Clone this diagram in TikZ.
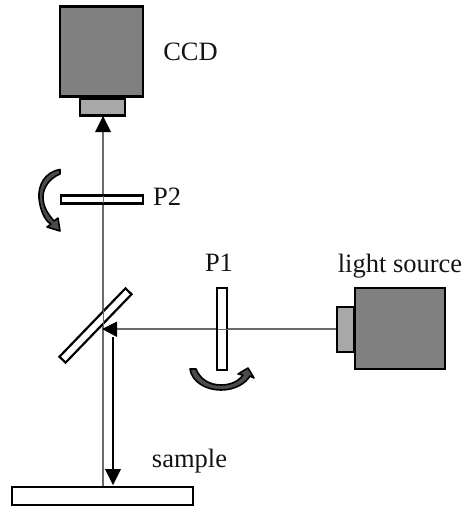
\documentclass[tikz,border=0pt]{standalone}
\usepackage{fontspec}
\setmainfont{Liberation Serif}
\tikzset{
  px/.style={x=1pt,y=-1pt},
  box/.style={draw=black,line width=2.4pt,inner sep=0pt,anchor=north west},
  camera/.style={box,fill=camgray},
  lensbox/.style={box,fill=lensgray},
  plate/.style={draw=black,line width=2.2pt,fill=white,inner sep=0pt},
  beam/.style={draw=beamgray,line width=1.5pt},
  ray/.style={draw=black,line width=1.3pt},
  head/.style={fill=black,draw=none},
  label/.style={font=\fontsize{26.5pt}{28pt}\selectfont,text=textgray,inner sep=0pt},
  swirl/.style={fill=swirlgray,draw=black,line width=1.6pt,line join=round}
}
\definecolor{camgray}{gray}{0.5}
\definecolor{lensgray}{gray}{0.66}
\definecolor{beamgray}{gray}{0.42}
\definecolor{swirlgray}{gray}{0.3}
\definecolor{textgray}{gray}{0.08}
\begin{document}
\begin{tikzpicture}[px]
\useasboundingbox (0,0) rectangle (464,508);
% beams (behind the optics)
\coordinate (axisTop) at (103,116);
\coordinate (axisBot) at (103,486);
\coordinate (srcIn) at (336,329);
\coordinate (mirHit) at (102,329);
\coordinate (reflTop) at (113,337);
\coordinate (reflBot) at (113,470);
\draw[beam] (axisBot) -- (axisTop);
\draw[beam] (srcIn) -- (mirHit);
% CCD
\node[camera,minimum width=83pt,minimum height=90pt] (ccd) at (58.5,5.5) {};
\node[lensbox,minimum width=45pt,minimum height=17pt] (ccdlens) at (78.5,97.5) {};
% light source
\node[lensbox,minimum width=17pt,minimum height=45pt] (srclens) at (335.5,305.5) {};
\node[camera,minimum width=90pt,minimum height=81pt] (src) at (353.5,286.5) {};
% sample
\node[box,fill=white,minimum width=181pt,minimum height=18pt] (sample) at (10.5,485.5) {};
% polarisers and splitter
\node[plate,minimum width=82.5pt,minimum height=8pt] (ptwo) at (102,199.5) {};
\node[plate,minimum width=10pt,minimum height=82pt] (pone) at (222,329) {};
\node[plate,minimum width=8.5pt,minimum height=95pt,rotate=-44] (mirror) at (95.5,325.5) {};
% beams over the plates, faint
\draw[beam,line width=1pt] (103,196) -- (103,203);
\draw[beam,line width=1pt] (217.5,329) -- (227.5,329);
\draw[beam,line width=1pt] (103,310) -- (103,329);
% arrow heads
\fill[head] (axisTop) -- (111,132) -- (95,132) -- cycle;
\fill[head] (mirHit) -- (117,321.5) -- (117,337) -- cycle;
\draw[ray] (reflTop) -- (reflBot);
\fill[head] (113,485) -- (105,469) -- (121,469) -- cycle;
% rotation arrows
\path[swirl] (60,169.5) .. controls (45,172) and (38,185) .. (39,198)
  .. controls (40,210) and (45,221) .. (51,224)
  -- (47,227) -- (60,231) -- (58,218) -- (54,221)
  .. controls (48,214) and (43,207) .. (43,197)
  .. controls (43,187) and (50,178) .. (60,174) -- cycle;
\path[swirl] (190,369) .. controls (192,382) and (206,390) .. (221,390)
  .. controls (235,390) and (246,383) .. (250,376)
  -- (254,378) -- (248,368) -- (238,374) -- (243,375)
  .. controls (238,382) and (230,385) .. (221,385)
  .. controls (209,385) and (200,379) .. (196,369) -- cycle;
% labels
\node[label] (lccd) at (190.5,52) {CCD};
\node[label,anchor=west] (lptwo) at (153,197) {P2};
\node[label] (lpone) at (219,263) {P1};
\node[label] (lsrc) at (400,266) {light source};
\node[label] (lsample) at (189.5,461) {sample};
\end{tikzpicture}
\end{document}
